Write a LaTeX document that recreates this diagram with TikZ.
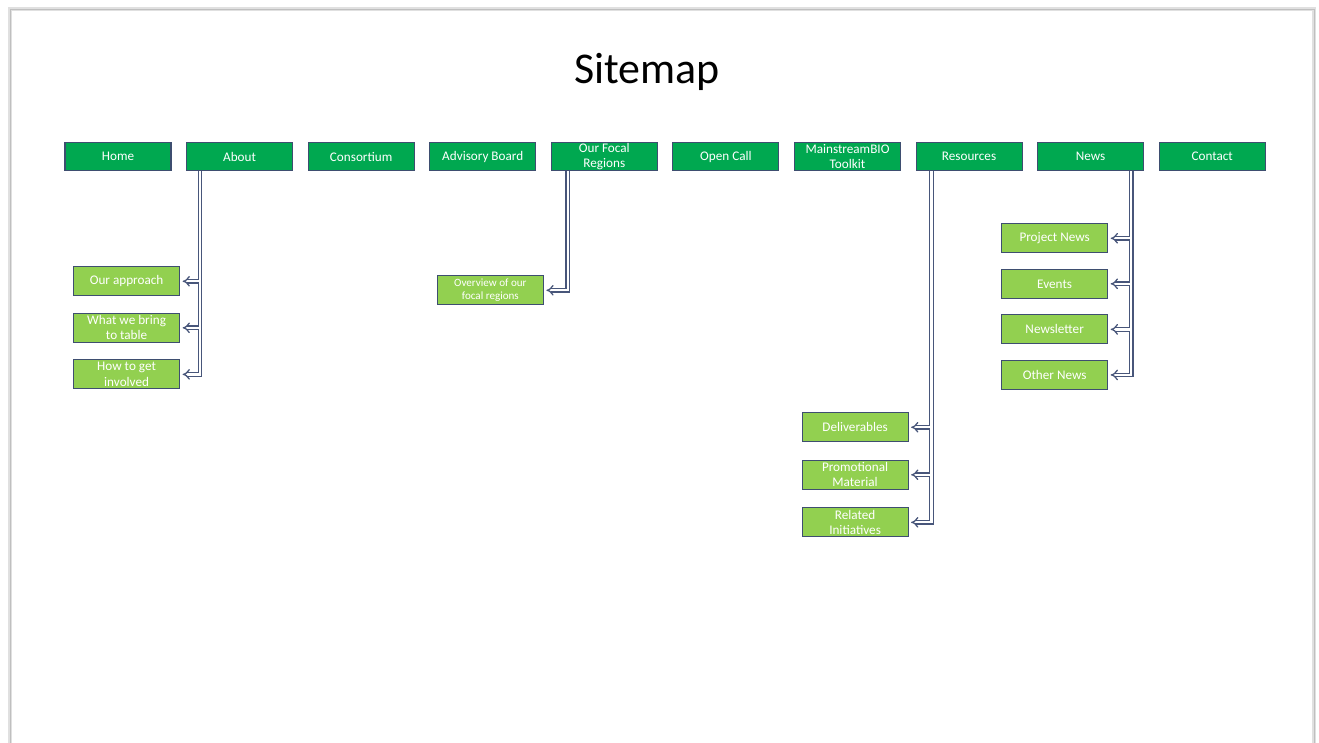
\documentclass[tikz,border=0pt]{standalone}
\usepackage{fontspec}
\setmainfont{Carlito}
\usetikzlibrary{positioning}
\usetikzlibrary{arrows.meta}

\definecolor{topgreen}{RGB}{0,168,80}
\definecolor{subgreen}{RGB}{146,208,80}
\definecolor{boxline}{RGB}{62,78,112}
\definecolor{linkblue}{RGB}{72,86,122}

\tikzset{
  topbox/.style={draw=boxline, line width=0.6pt, fill=topgreen, text=white,
    minimum width=2.12cm, minimum height=0.57cm, inner xsep=1pt, inner ysep=0.5pt,
    align=center, font=\fontsize{7.5}{8.6}\selectfont},
  subbox/.style={topbox, fill=subgreen, minimum height=0.58cm},
  link/.style={draw=linkblue, double=white, double distance=1.3pt, line width=0.72pt},
  tip/.style={link, -{Implies[scale=1.25]}},
}

\begin{document}
\begin{tikzpicture}[x=0.02cm, y=-0.02cm]

    % page
    \useasboundingbox (0,0) rectangle (1319,743);
    \fill[white] (0,0) rectangle (1319,743);
    \draw[black!12, line width=2.5pt] (10,9) rectangle (1314,752);
    \draw[black!25, line width=0.5pt] (10,9) rectangle (1314,752);

    \node[font=\fontsize{25}{30}\selectfont] (title) at (647,72) {Sitemap};

    %top row
    \node[topbox] (home) at (118,156.5) {Home};
    \node[topbox, right=0.291cm of home] (about) {About};
    \node[topbox, right=0.291cm of about] (consortium) {Consortium};
    \node[topbox, right=0.291cm of consortium] (advisory) {Advisory Board};
    \node[topbox, right=0.291cm of advisory] (focal) {Our Focal\\Regions};
    \node[topbox, right=0.291cm of focal] (opencall) {Open Call};
    \node[topbox, right=0.291cm of opencall] (toolkit) {MainstreamBIO\\Toolkit};
    \node[topbox, right=0.291cm of toolkit] (resources) {Resources};
    \node[topbox, right=0.291cm of resources] (news) {News};
    \node[topbox, right=0.291cm of news] (contact) {Contact};

    %sub pages
    \node[subbox, below=1.9cm of about, xshift=-2.26cm] (approach) {Our approach};
    \node[subbox, below=0.33cm of approach] (bring) {What we bring\\to table};
    \node[subbox, below=0.33cm of bring] (involved) {How to get\\involved};

    \node[subbox, below=2.08cm of focal, xshift=-2.28cm, font=\fontsize{6.3}{7.6}\selectfont] (overview) {Overview of our\\focal regions};

    \node[subbox, below=4.82cm of resources, xshift=-2.28cm] (deliverables) {Deliverables};
    \node[subbox, below=0.35cm of deliverables] (promo) {Promotional\\Material};
    \node[subbox, below=0.35cm of promo] (related) {Related\\Initiatives};

    \node[subbox, below=1.04cm of news, xshift=-0.72cm] (projnews) {Project News};
    \node[subbox, below=0.31cm of projnews] (events) {Events};
    \node[subbox, below=0.31cm of events] (newsletter) {Newsletter};
    \node[subbox, below=0.31cm of newsletter] (othernews) {Other News};

    % trunks
    \coordinate[xshift=0.28cm] (aboutx) at (about.south west);
    \coordinate[xshift=0.34cm] (focalx) at (focal.south west);
    \coordinate[xshift=0.32cm] (resx) at (resources.south west);
    \coordinate[xshift=-0.26cm] (newsx) at (news.south east);

    \draw[link] (aboutx) |- ([xshift=0.2cm]involved.east)
      (aboutx |- approach.east) -- ([xshift=0.2cm]approach.east)
      (aboutx |- bring.east) -- ([xshift=0.2cm]bring.east);
    \draw[link] (focalx) |- ([xshift=0.2cm]overview.east);
    \draw[link] (resx) |- ([xshift=0.2cm]related.east)
      (resx |- deliverables.east) -- ([xshift=0.2cm]deliverables.east)
      (resx |- promo.east) -- ([xshift=0.2cm]promo.east);
    \draw[link] (newsx) |- ([xshift=0.2cm]othernews.east)
      (newsx |- projnews.east) -- ([xshift=0.2cm]projnews.east)
      (newsx |- events.east) -- ([xshift=0.2cm]events.east)
      (newsx |- newsletter.east) -- ([xshift=0.2cm]newsletter.east);

    % arrow heads
    \foreach \n in {approach,bring,involved,overview,deliverables,promo,related,projnews,events,newsletter,othernews}
      \draw[tip] ([xshift=0.24cm]\n.east) -- ([xshift=0.05cm]\n.east);

\end{tikzpicture}
\end{document}
